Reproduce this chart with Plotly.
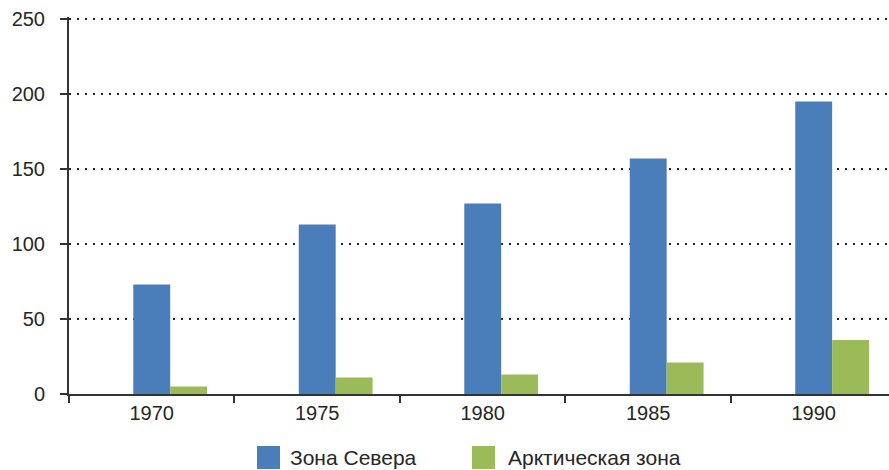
import plotly.graph_objects as go

years = ["1970", "1975", "1980", "1985", "1990"]
north_zone = [73, 113, 127, 157, 195]
arctic_zone = [5, 11, 13, 21, 36]
series_names = ["Зона Севера", "Арктическая зона"]
series_colors = ["#4a7ebb", "#9bbb59"]
y_ticks = [0, 50, 100, 150, 200, 250]

FONT = "Arial, Liberation Sans, sans-serif"
TXT = "#262626"
BW = 0.223

fig = go.Figure()
fig.add_trace(go.Bar(x=years, y=north_zone, name=series_names[0],
                     marker=dict(color=series_colors[0], line=dict(width=0)),
                     width=BW, offset=-BW / 2, showlegend=False))
fig.add_trace(go.Bar(x=years, y=arctic_zone, name=series_names[1],
                     marker=dict(color=series_colors[1], line=dict(width=0)),
                     width=BW, offset=BW / 2, showlegend=False))

# legend drawn as layout decorations (squares + labels)
W, H, L, T = 820.0, 377.0, 69.0, 17.0
def px(x): return (x - L) / W
def py(y): return (T + H - y) / H
legend_items = [(257, 288), (472, 506)]
for (sx, tx), name, col in zip(legend_items, series_names, series_colors):
    fig.add_shape(type="rect", xref="paper", yref="paper",
                  x0=px(sx), x1=px(sx + 23), y0=py(469), y1=py(446),
                  fillcolor=col, line=dict(width=0))
    fig.add_annotation(xref="paper", yref="paper", x=px(tx), y=py(457.5),
                       text=name, showarrow=False, xanchor="left", yanchor="middle",
                       font=dict(family=FONT, size=21, color=TXT))

fig.update_layout(
    width=889, height=470,
    margin=dict(l=69, r=0, t=17, b=76),
    plot_bgcolor="white", paper_bgcolor="white",
    barmode="overlay",
    font=dict(family=FONT, size=20, color=TXT),
    showlegend=False,
)
fig.update_xaxes(type="category", range=[-0.5, 4.455],
                 showline=True, linecolor="#333333", linewidth=2,
                 ticks="outside", tickson="boundaries", ticklen=7, tickwidth=2,
                 tickcolor="#333333", showgrid=False,
                 tickfont=dict(family=FONT, size=20, color=TXT))
fig.update_yaxes(range=[0, 251.33], tickvals=y_ticks,
                 showline=True, linecolor="#333333", linewidth=2,
                 ticks="outside", ticklen=7, tickwidth=2, tickcolor="#333333",
                 showgrid=True, gridcolor="#222222", gridwidth=1.5,
                 griddash="2px,6px", zeroline=False, ticklabelstandoff=11,
                 tickfont=dict(family=FONT, size=20, color=TXT))

fig.write_html("out.html", config={"displayModeBar": False},
               post_script="document.body.style.margin='0';")
